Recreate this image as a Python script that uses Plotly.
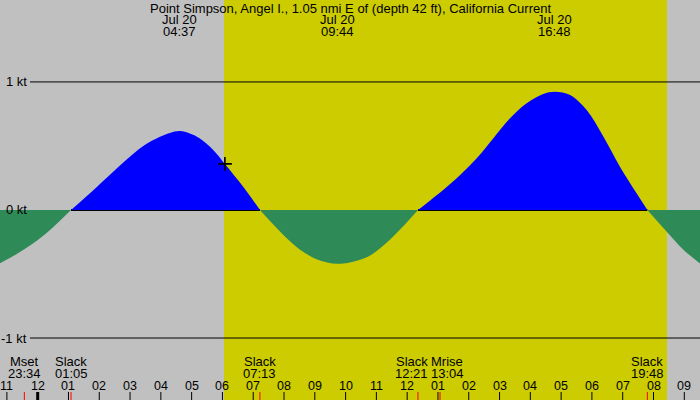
import plotly.graph_objects as go

# ---- data (hours from midnight Jul 20; knots) ----
times = [-1.224, -0.68, -0.143, 0.40, 1.083,
         1.806, 2.348, 2.89, 3.43, 3.97, 4.29, 4.617, 4.94, 5.27, 5.70, 6.08, 6.68, 7.217,
         7.60, 7.98, 8.52, 9.06, 9.40, 9.733, 10.10, 10.69, 11.22, 11.76, 12.35,
         12.75, 13.17, 13.72, 14.26, 14.80, 15.34, 15.88, 16.42, 16.8, 17.29, 17.83, 18.37, 18.91, 19.45, 19.8,
         20.43, 20.97, 21.51]
speeds = [-0.416, -0.344, -0.26, -0.156, 0.0,
          0.155, 0.275, 0.395, 0.50, 0.572, 0.602, 0.617, 0.598, 0.559, 0.469, 0.36, 0.18, 0.0,
          -0.10, -0.195, -0.31, -0.385, -0.41, -0.42, -0.412, -0.37, -0.28, -0.155, 0.0,
          0.075, 0.156, 0.273, 0.404, 0.56, 0.716, 0.833, 0.906, 0.924, 0.898, 0.78, 0.573, 0.338, 0.13, 0.0,
          -0.17, -0.31, -0.417]

x_range = [-1.224, 21.51]
y_range = [-1.484, 1.64]

sunrise = 6.05
sunset = 20.44

now_time = 6.08
now_speed = 0.36

max_times = [4.617, 9.733, 16.8]
max_labels = ["04:37", "09:44", "16:48"]
max_date = "Jul 20"

event_times = [-0.433, 1.083, 7.217, 12.35, 13.067, 19.8]
event_names = ["Mset", "Slack", "Slack", "Slack", "Mrise", "Slack"]
event_labels = ["23:34", "01:05", "07:13", "12:21", "13:04", "19:48"]
event_shift = [0, 0, 0, -6, 7, 0]

hour_ticks = list(range(-1, 22))
hour_labels = ["11", "12", "01", "02", "03", "04", "05", "06", "07", "08", "09", "10",
               "11", "12", "01", "02", "03", "04", "05", "06", "07", "08", "09"]

level_values = [1, 0, -1]
level_labels = ["1 kt", "0 kt", "-1 kt"]

title = "Point Simpson, Angel I., 1.05 nmi E of (depth 42 ft), California Current"

GRAY = "#c0c0c0"
YELLOW = "#cccc00"
BLUE = "#0000ff"
GREEN = "#2e8b57"
FAM = "Liberation Sans, Arial, sans-serif"
FONT = dict(family=FAM, size=13, color="black")
FONT_H = dict(family=FAM, size=12.5, color="black")

W, H = 700, 400

def py(p):
    return 1 - p / H

# split into lobes between slack points
segments = []
cur = [(times[0], speeds[0])]
for t, v in zip(times[1:], speeds[1:]):
    cur.append((t, v))
    if v == 0:
        segments.append(cur)
        cur = [(t, v)]
if len(cur) > 1:
    segments.append(cur)

fig = go.Figure()
shapes = [dict(type="rect", xref="x", yref="paper", x0=sunrise, x1=sunset, y0=0, y1=1,
               fillcolor=YELLOW, line=dict(width=0), layer="below")]

for seg in segments:
    xs = [p[0] for p in seg]
    ys = [p[1] for p in seg]
    peak = max(ys, key=abs)
    col = BLUE if peak > 0 else GREEN
    fig.add_trace(go.Scatter(x=xs, y=ys, mode="lines", line=dict(width=0, shape="spline", color=col),
                             fill="tozeroy", fillcolor=col, hoverinfo="skip", showlegend=False))
    if peak > 0:
        shapes.append(dict(type="line", xref="x", yref="y", x0=xs[0], x1=xs[-1], y0=0, y1=0,
                           line=dict(color="black", width=2), layer="below"))

fig.add_trace(go.Scatter(x=[now_time], y=[now_speed], mode="markers",
                         marker=dict(symbol="cross-thin", size=10, line=dict(color="black", width=1.6)),
                         hoverinfo="skip", showlegend=False))

for lv in level_values:
    if lv != 0:
        shapes.append(dict(type="line", xref="paper", yref="y", x0=30 / W, x1=1, y0=lv, y1=lv,
                           line=dict(color="black", width=1), layer="below"))
for h in hour_ticks:
    shapes.append(dict(type="line", xref="x", yref="paper", x0=h, x1=h, y0=0, y1=py(392),
                       line=dict(color="black", width=3 if h == 0 else 1)))
for et in event_times:
    shapes.append(dict(type="line", xref="x", yref="paper", x0=et, x1=et, y0=0, y1=py(392),
                       line=dict(color="red", width=1)))

ann = [dict(text=title, x=0.5, xref="paper", y=py(8), yref="paper", showarrow=False,
            xanchor="center", yanchor="middle", font=FONT)]
for mt, ml in zip(max_times, max_labels):
    ann.append(dict(text=max_date, x=mt, xref="x", y=py(19.5), yref="paper", showarrow=False,
                    xanchor="center", yanchor="middle", font=FONT))
    ann.append(dict(text=ml, x=mt, xref="x", y=py(31.5), yref="paper", showarrow=False,
                    xanchor="center", yanchor="middle", font=FONT))
for et, en, el, sh in zip(event_times, event_names, event_labels, event_shift):
    ann.append(dict(text=en, x=et, xref="x", y=py(361.5), yref="paper", showarrow=False,
                    xanchor="center", yanchor="middle", xshift=sh, font=FONT))
    ann.append(dict(text=el, x=et, xref="x", y=py(373.5), yref="paper", showarrow=False,
                    xanchor="center", yanchor="middle", xshift=sh, font=FONT))
for h, hl in zip(hour_ticks, hour_labels):
    ann.append(dict(text=hl, x=h, xref="x", y=py(385.5), yref="paper", showarrow=False,
                    xanchor="center", yanchor="middle", font=FONT_H))
for lv, ll in zip(level_values, level_labels):
    ann.append(dict(text=ll, x=29 / W, xref="paper", y=lv, yref="y", showarrow=False,
                    xanchor="right", yanchor="middle", font=FONT))

fig.update_layout(width=W, height=H, margin=dict(l=0, r=0, t=0, b=0),
                  plot_bgcolor=GRAY, paper_bgcolor=GRAY,
                  xaxis=dict(range=x_range, visible=False, fixedrange=True),
                  yaxis=dict(range=y_range, visible=False, fixedrange=True),
                  shapes=shapes, annotations=ann, showlegend=False)

fig.write_html("out.html", config={"displayModeBar": False})
